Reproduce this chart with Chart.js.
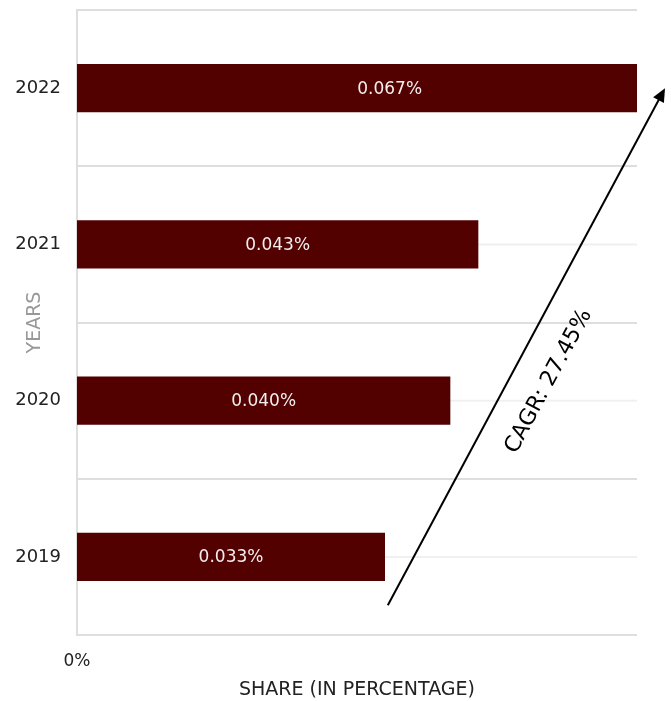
<!DOCTYPE html>
<html>
<head>
<meta charset="utf-8">
<script src="https://cdn.jsdelivr.net/npm/chart.js@4.4.1/dist/chart.umd.min.js"></script>
<style>
  html, body { margin: 0; padding: 0; background: #fff; }
  #wrap { width: 671px; height: 701px; }
</style>
</head>
<body>
<div id="wrap"><canvas id="shareChart"></canvas></div>
<script>
const years = ['2022', '2021', '2020', '2019'];
const shares = [0.067, 0.043, 0.040, 0.033];
const axisMax = 0.06;
const xTicks = [0];
// CAGR arrow ends, in axis units: [share, category index]
const cagrFrom = [0.0333, 3.31];
const cagrTo = [0.063, 0];
const cagrText = 'CAGR: 27.45%';

const FONT = '"DejaVu Sans", sans-serif';

// light lines through the middle of each row
const rowLines = {
  id: 'rowLines',
  beforeDatasetsDraw(chart) {
    const { ctx, chartArea, scales } = chart;
    ctx.save();
    ctx.strokeStyle = '#f0f0f0';
    ctx.lineWidth = 2;
    years.forEach((y, i) => {
      const py = scales.y.getPixelForValue(i);
      ctx.beginPath();
      ctx.moveTo(chartArea.left, py);
      ctx.lineTo(chartArea.right, py);
      ctx.stroke();
    });
    ctx.restore();
  }
};

const barLabels = {
  id: 'barLabels',
  afterDatasetsDraw(chart) {
    const { ctx, scales } = chart;
    ctx.save();
    ctx.font = '17px ' + FONT;
    ctx.fillStyle = '#f4eeee';
    ctx.textAlign = 'center';
    ctx.textBaseline = 'middle';
    shares.forEach((v, i) => {
      const x = scales.x.getPixelForValue(v / 2);
      const y = scales.y.getPixelForValue(i);
      ctx.fillText(v.toFixed(3) + '%', x, y + 1);
    });
    ctx.restore();
  }
};

const cagrArrow = {
  id: 'cagrArrow',
  afterDraw(chart) {
    const { ctx, scales } = chart;
    const x1 = scales.x.getPixelForValue(cagrFrom[0]);
    const y1 = scales.y.getPixelForValue(cagrFrom[1]);
    const x2 = scales.x.getPixelForValue(cagrTo[0]);
    const y2 = scales.y.getPixelForValue(cagrTo[1]);
    const ang = Math.atan2(y2 - y1, x2 - x1);
    const head = 15;
    ctx.save();
    ctx.strokeStyle = '#000';
    ctx.fillStyle = '#000';
    ctx.lineWidth = 2;
    ctx.beginPath();
    ctx.moveTo(x1, y1);
    ctx.lineTo(x2 - Math.cos(ang) * head * 0.8, y2 - Math.sin(ang) * head * 0.8);
    ctx.stroke();
    ctx.beginPath();
    ctx.moveTo(x2, y2);
    ctx.lineTo(x2 - head * Math.cos(ang - 0.42), y2 - head * Math.sin(ang - 0.42));
    ctx.lineTo(x2 - head * Math.cos(ang + 0.42), y2 - head * Math.sin(ang + 0.42));
    ctx.closePath();
    ctx.fill();

    // label sits beside the shaft, a bit below its middle
    const t = 0.466;
    const mx = x1 + (x2 - x1) * t;
    const my = y1 + (y2 - y1) * t;
    const off = 36;
    const tx = mx + Math.cos(ang + Math.PI / 2) * off;
    const ty = my + Math.sin(ang + Math.PI / 2) * off;
    ctx.translate(tx, ty);
    ctx.rotate(ang);
    ctx.font = '22px ' + FONT;
    ctx.textAlign = 'center';
    ctx.textBaseline = 'middle';
    ctx.fillText(cagrText, 0, 0);
    ctx.restore();
  }
};

new Chart(document.getElementById('shareChart'), {
  type: 'bar',
  data: {
    labels: years,
    datasets: [{
      data: shares,
      backgroundColor: '#520000',
      borderWidth: 0,
      categoryPercentage: 1,
      barPercentage: 0.31,
      clip: 0
    }]
  },
  options: {
    indexAxis: 'y',
    responsive: true,
    maintainAspectRatio: false,
    animation: false,
    layout: { padding: { top: 10, right: 34, left: 0, bottom: 0 } },
    plugins: {
      legend: { display: false },
      tooltip: { enabled: false }
    },
    scales: {
      x: {
        min: 0,
        max: axisMax,
        afterBuildTicks(scale) {
          scale.ticks = xTicks.map(v => ({ value: v }));
        },
        afterFit(scale) { scale.height = 66; },
        grid: { display: false },
        border: { display: false },
        ticks: {
          color: '#222',
          font: { family: FONT, size: 17 },
          padding: 8,
          callback: v => v + '%'
        },
        title: {
          display: true,
          text: 'SHARE (IN PERCENTAGE)',
          color: '#222',
          font: { family: FONT, size: 19 },
          padding: { top: 6, bottom: 0 }
        }
      },
      y: {
        afterFit(scale) {
          scale.width = 77;
          scale.paddingTop = 0;
          scale.paddingBottom = 0;
        },
        grid: { color: '#dedede', lineWidth: 2, drawTicks: false, offset: true },
        border: { color: '#dedede', width: 2 },
        ticks: {
          color: '#222',
          font: { family: FONT, size: 18 },
          padding: 16
        },
        title: {
          display: true,
          text: 'YEARS',
          color: '#999',
          font: { family: FONT, size: 19 },
          padding: { top: 24, bottom: 0 }
        }
      }
    }
  },
  plugins: [rowLines, barLabels, cagrArrow]
});
</script>
</body>
</html>
